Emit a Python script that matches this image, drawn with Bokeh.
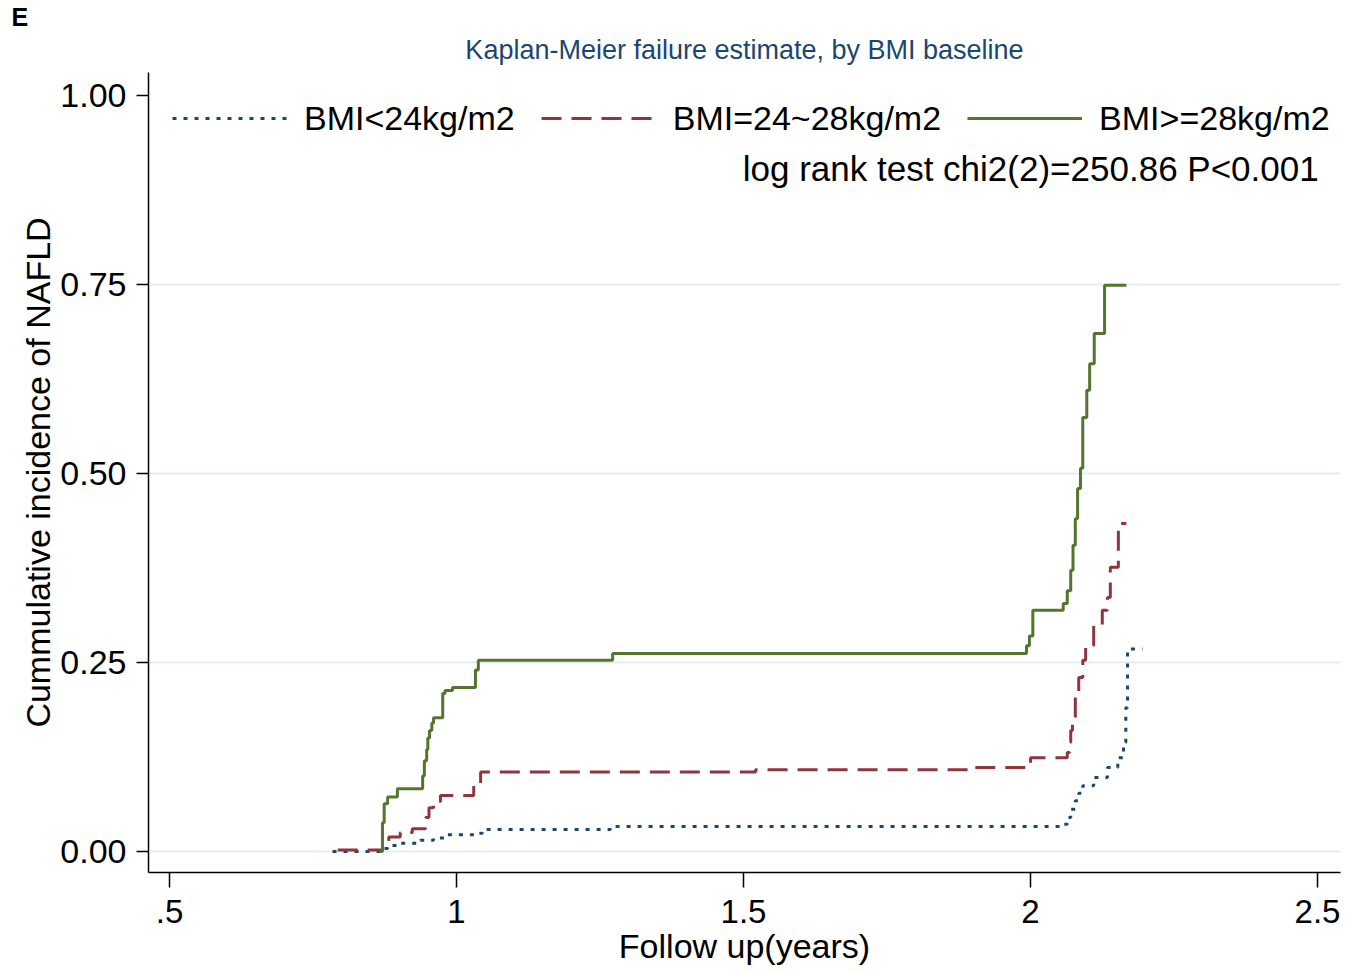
from bokeh.plotting import figure
from bokeh.models import Range1d, FixedTicker, Label, Legend, Title
from bokeh.embed import file_html
from bokeh.resources import INLINE

# ---- data ----
blue_t = [0.784, 0.871, 0.880, 0.902, 0.937, 0.960, 0.984, 1.033, 1.045, 1.268, 2.057, 2.064,
          2.070, 2.078, 2.084, 2.091, 2.110, 2.134, 2.152, 2.162, 2.166, 2.169, 2.195]
blue_v = [0.0, 0.004, 0.008, 0.011, 0.015, 0.018, 0.022, 0.024, 0.029, 0.033, 0.036, 0.045,
          0.056, 0.067, 0.077, 0.087, 0.098, 0.111, 0.124, 0.144, 0.19, 0.268, 0.268]

red_t = [0.793, 0.871, 0.882, 0.902, 0.923, 0.946, 0.952, 0.960, 0.972, 1.030, 1.042, 1.521,
         1.895, 1.995, 2.000, 2.064, 2.068, 2.070, 2.073, 2.078, 2.084, 2.091, 2.096, 2.110,
         2.125, 2.134, 2.139, 2.153, 2.167]
red_v = [0.002, 0.012, 0.019, 0.025, 0.030, 0.045, 0.058, 0.066, 0.074, 0.09, 0.105, 0.108,
         0.111, 0.117, 0.124, 0.131, 0.144, 0.16, 0.177, 0.204, 0.23, 0.253, 0.272, 0.30,
         0.319, 0.336, 0.376, 0.434, 0.434]

green_t = [0.866, 0.871, 0.874, 0.880, 0.897, 0.941, 0.944, 0.948, 0.950, 0.953, 0.957, 0.960,
           0.976, 0.980, 0.993, 1.033, 1.038, 1.272, 1.993, 1.998, 2.004, 2.057, 2.064, 2.070,
           2.074, 2.078, 2.082, 2.087, 2.091, 2.098, 2.103, 2.111, 2.129, 2.167]
green_v = [0.0, 0.038, 0.063, 0.072, 0.083, 0.10, 0.12, 0.135, 0.15, 0.16, 0.17, 0.177,
           0.209, 0.213, 0.217, 0.24, 0.253, 0.262, 0.272, 0.285, 0.319, 0.328, 0.345, 0.372,
           0.405, 0.44, 0.48, 0.507, 0.574, 0.61, 0.645, 0.685, 0.749, 0.749]

series_names = ["BMI<24kg/m2", "BMI=24~28kg/m2", "BMI>=28kg/m2"]
x_ticks = [0.5, 1.0, 1.5, 2.0, 2.5]
x_tick_labels = [".5", "1", "1.5", "2", "2.5"]
y_ticks = [0.0, 0.25, 0.5, 0.75, 1.0]
y_tick_labels = ["0.00", "0.25", "0.50", "0.75", "1.00"]
title_text = "Kaplan-Meier failure estimate, by BMI baseline"
panel_text = "E"
test_text = "log rank test chi2(2)=250.86 P<0.001"

FONT = "Liberation Sans"
NAVY = "#1a476f"
MAROON = "#90353b"
GREEN = "#55752f"

p = figure(frame_width=1192, frame_height=800,
           min_border_left=148, min_border_top=72, min_border_right=14, min_border_bottom=90,
           x_range=Range1d(0.4634, 2.540), y_range=Range1d(-0.0278, 1.0304),
           output_backend="svg", toolbar_location=None)
p.outline_line_color = None
p.background_fill_color = "white"
p.border_fill_color = "white"

main_title = Title(text=title_text, align="center", text_font=FONT, text_font_size="27px",
                   text_font_style="normal", text_color=NAVY, standoff=15)
p.add_layout(main_title, "above")
e_title = Title(text=panel_text, align="left", offset=-137, text_font=FONT,
                text_font_size="25px", text_font_style="bold", text_color="black", standoff=-10)
p.add_layout(e_title, "above")

# axes
p.xaxis.ticker = FixedTicker(ticks=x_ticks)
p.xaxis.major_label_overrides = dict(zip(x_ticks, x_tick_labels))
p.yaxis.ticker = FixedTicker(ticks=y_ticks)
p.yaxis.major_label_overrides = dict(zip(y_ticks, y_tick_labels))
for ax in (p.xaxis, p.yaxis):
    ax.axis_line_color = "black"
    ax.axis_line_width = 1.5
    ax.major_tick_line_color = "black"
    ax.major_tick_line_width = 1.5
    ax.minor_tick_line_color = None
    ax.major_tick_in = 0
    ax.major_label_text_font = FONT
    ax.major_label_text_color = "black"
    ax.axis_label_text_font = FONT
    ax.axis_label_text_font_style = "normal"
    ax.axis_label_text_color = "black"
    ax.axis_label_text_font_size = "34px"
p.xaxis.major_tick_out = 15
p.xaxis.major_label_standoff = 12
p.xaxis.major_label_text_font_size = "33px"
p.xaxis.axis_label = "Follow up(years)"
p.xaxis.axis_label_standoff = 1
p.yaxis.major_tick_out = 12
p.yaxis.major_label_standoff = 10
p.yaxis.major_label_text_font_size = "34px"
p.yaxis.axis_label = "Cummulative incidence of NAFLD"
p.yaxis.axis_label_standoff = 0

p.xgrid.grid_line_color = None
p.ygrid.ticker = FixedTicker(ticks=[0.0, 0.25, 0.5, 0.75])
p.ygrid.grid_line_color = "#e3eef1"
p.ygrid.grid_line_width = 2

r1 = p.step(blue_t, blue_v, mode="after", line_color=NAVY, line_width=3, line_dash="4 7")
r2 = p.step(red_t, red_v, mode="after", line_color=MAROON, line_width=3, line_dash="20 10")
r3 = p.step(green_t, green_v, mode="after", line_color=GREEN, line_width=3)

legend = Legend(items=[(series_names[0], [r1]), (series_names[1], [r2]), (series_names[2], [r3])],
                location=(24, 734), orientation="horizontal")
legend.border_line_color = None
legend.background_fill_alpha = 0
legend.margin = 0
legend.padding = 0
legend.spacing = 26
legend.glyph_width = 115
legend.glyph_height = 40
legend.label_height = 40
legend.label_standoff = 17
legend.label_text_font = FONT
legend.label_text_font_size = "34px"
legend.label_text_color = "black"
p.add_layout(legend)

p.add_layout(Label(x=2.502, y=0.903, text=test_text, text_align="right",
                   text_baseline="middle", text_font=FONT, text_font_size="35px",
                   text_color="black"))

open("out.html", "w").write(file_html(p, INLINE))
